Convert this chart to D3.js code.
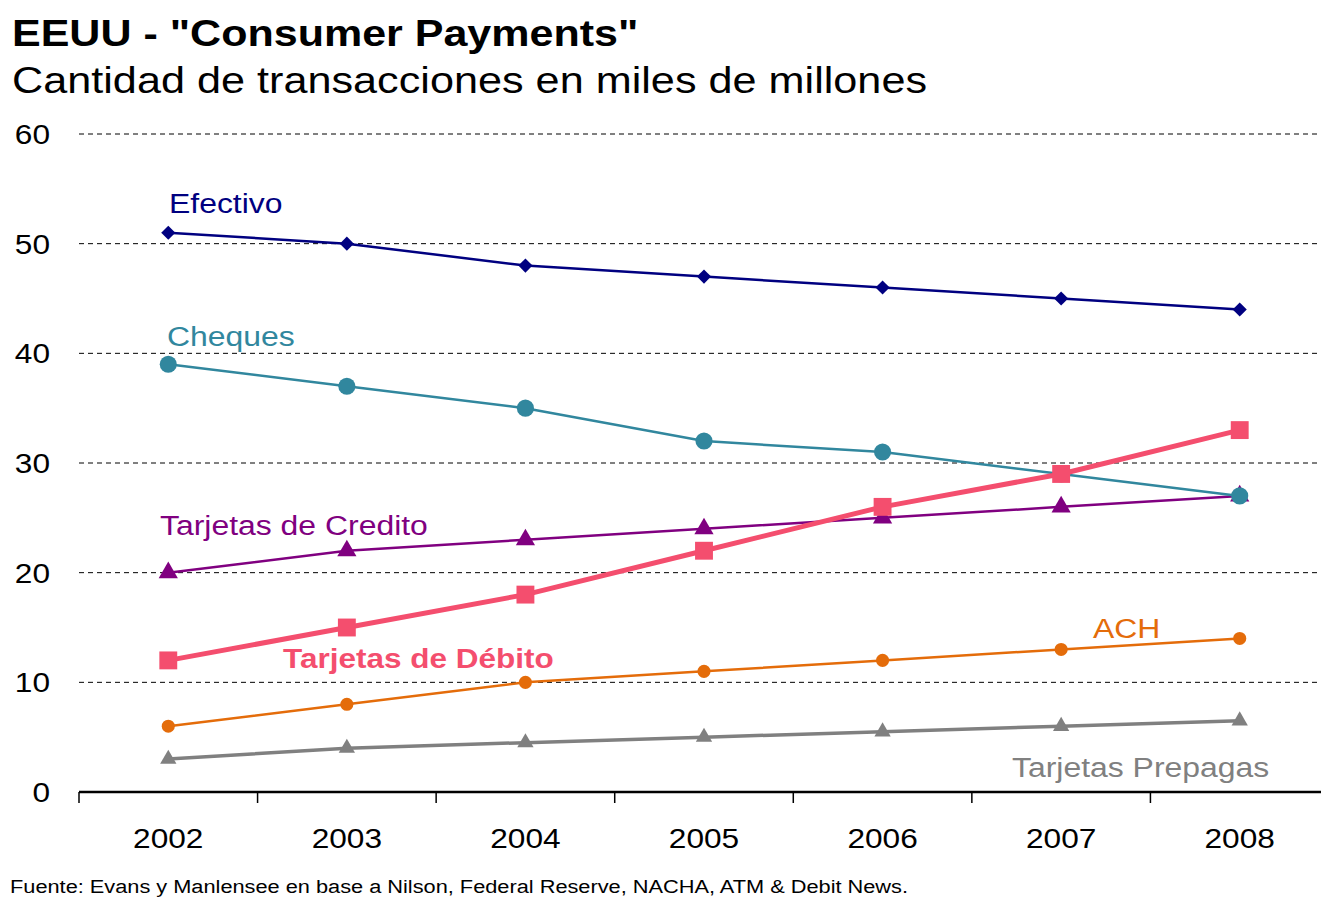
<!DOCTYPE html>
<html><head><meta charset="utf-8">
<script src="https://cdn.jsdelivr.net/npm/d3@7"></script>
<style>
body{margin:0;background:#fff;}
svg{display:block;font-family:"Liberation Sans",Arial,sans-serif;}
</style></head>
<body><svg id="chart" width="1321" height="904"></svg>
<script>
const years = ["2002","2003","2004","2005","2006","2007","2008"];
const yTicks = [0,10,20,30,40,50,60];
const efectivo = [51,50,48,47,46,45,44];
const cheques = [39,37,35,32,31,29,27];
const credito = [20,22,23,24,25,26,27];
const debito = [12,15,18,22,26,29,33];
const ach = [6,8,10,11,12,13,14];
const prepagas = [3,4,4.5,5,5.5,6,6.5];

const seriesDefs = [
  {name:"Tarjetas Prepagas", values:prepagas, color:"#808080", width:3.5, marker:"triangle", size:115, lx:1012, ly:777, bold:false},
  {name:"ACH", values:ach, color:"#E46C0A", width:2.5, marker:"circle", size:135, lx:1093, ly:638, bold:false},
  {name:"Tarjetas de Credito", values:credito, color:"#800080", width:2.5, marker:"triangle", size:160, lx:160, ly:535, bold:false},
  {name:"Cheques", values:cheques, color:"#31879E", width:2.5, marker:"circle", size:230, lx:167, ly:346, bold:false},
  {name:"Efectivo", values:efectivo, color:"#000080", width:2.5, marker:"diamond", size:100, lx:169, ly:213, bold:false},
  {name:"Tarjetas de Débito", values:debito, color:"#F44E6E", width:5, marker:"square", size:320, lx:283, ly:668, bold:true}
];

const svg = d3.select("#chart");
const x = d3.scaleBand().domain(years).range([79, 1329]);
const y = d3.scaleLinear().domain([0,60]).range([792,134]);

function addText(parent, tx, ty, str, size, opts={}){
  const t = parent.append("text")
    .attr("transform",`translate(${tx},${ty}) scale(${opts.sx||1.14},1)`)
    .attr("font-size",size).attr("fill",opts.fill||"#000")
    .attr("font-weight",opts.bold?"bold":"normal")
    .attr("text-anchor",opts.anchor||"start")
    .text(str);
  return t;
}

// title
addText(svg,12,46,'EEUU - "Consumer Payments"',37,{bold:true,sx:1.163});
addText(svg,12,93,"Cantidad de transacciones en miles de millones",37,{sx:1.168});

// gridlines
svg.append("g").selectAll("line").data(yTicks.filter(d=>d>0)).join("line")
  .attr("x1",79).attr("x2",1321).attr("y1",d=>y(d)).attr("y2",d=>y(d))
  .attr("stroke","#000").attr("stroke-width",1).attr("stroke-dasharray","5,4");

// y labels
const yg = svg.append("g");
yTicks.forEach(d=>addText(yg,50,y(d)+10,String(d),28,{anchor:"end",sx:1.13}));

// x axis
svg.append("line").attr("x1",79).attr("x2",1321).attr("y1",792).attr("y2",792).attr("stroke","#000").attr("stroke-width",2.5);
const bounds = years.map(d=>x(d)).concat([x(years[years.length-1])+x.bandwidth()]);
svg.append("g").selectAll("line").data(bounds).join("line")
  .attr("x1",d=>d).attr("x2",d=>d).attr("y1",792).attr("y2",803).attr("stroke","#000").attr("stroke-width",1.5);
const xg = svg.append("g");
years.forEach(d=>addText(xg,x(d)+x.bandwidth()/2,848,d,28,{anchor:"middle",sx:1.13}));

// series
const line = d3.line().x((d,i)=>x(years[i])+x.bandwidth()/2).y(d=>y(d));
const symMap = {triangle:d3.symbolTriangle, circle:d3.symbolCircle, diamond:d3.symbolSquare, square:d3.symbolSquare};
seriesDefs.forEach(s=>{
  const g = svg.append("g");
  g.append("path").datum(s.values).attr("d",line).attr("fill","none").attr("stroke",s.color).attr("stroke-width",s.width).attr("stroke-linejoin","round");
  const sym = d3.symbol().type(symMap[s.marker]).size(s.size);
  g.selectAll("path.m").data(s.values).join("path").attr("class","m")
    .attr("transform",(d,i)=>`translate(${x(years[i])+x.bandwidth()/2},${y(d)})${s.marker==="diamond"?" rotate(45)":""}`)
    .attr("d",sym).attr("fill",s.color);
  addText(g,s.lx,s.ly,s.name,28,{fill:s.color,bold:s.bold,sx:s.bold?1.125:1.14});
});

// footer
svg.append("text").attr("x",10).attr("y",893).attr("font-size",18).attr("fill","#000")
  .attr("textLength",898).attr("lengthAdjust","spacingAndGlyphs")
  .text("Fuente: Evans y Manlensee en base a Nilson, Federal Reserve, NACHA, ATM & Debit News.");
</script></body></html>
